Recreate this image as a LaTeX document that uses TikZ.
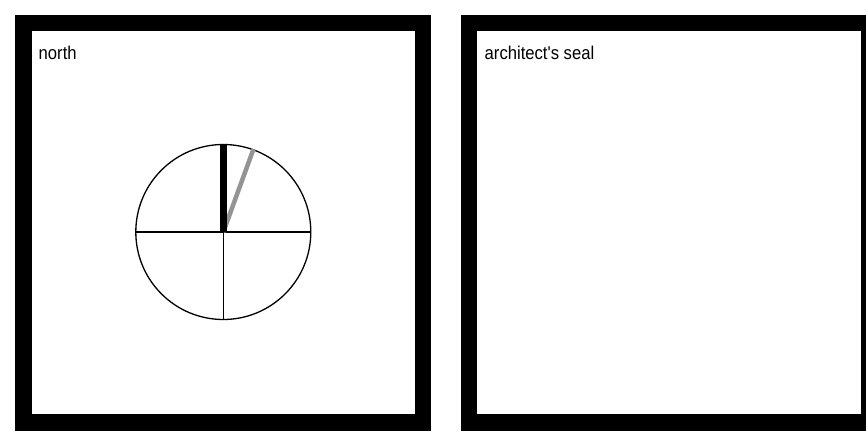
\documentclass[tikz,border=0pt]{standalone}
\usepackage{fontspec}
\newfontfamily\labfont{Liberation Sans}[FakeStretch=0.9]
\begin{document}
\begin{tikzpicture}[x=1pt,y=-1pt,
  frame/.style={draw=black,line width=16.5pt},
  label/.style={anchor=base west,inner sep=0pt,font=\labfont\fontsize{18.5}{22}\selectfont},
  dial/.style={draw=black,line width=1.3pt,circle,minimum size=175pt,inner sep=0pt},
  rule/.style={draw=black,line width=1.1pt},
  needle/.style={draw=black,line width=7.5pt},
  shade/.style={draw=black!42,line width=4.5pt}]
\useasboundingbox (0,0) rectangle (866,438);
\clip (0,0) rectangle (866,438);
\fill[white] (0,0) rectangle (866,438);
\draw[frame] (23.25,23.2) rectangle (423,422.5);
\draw[frame] (469,23.2) rectangle (869,422.5);
\node[label] (north) at (38.5,60) {north};
\node[label] (seal) at (484.5,60) {architect's seal};
\node[dial] (d) at (223.3,232) {};
\coordinate (c) at (223.3,232);
\draw[rule] (d.west) -- (d.east);
\draw[rule] (c) -- (d.south);
\draw[shade] (c) -- (d.70.5);
\draw[needle] (c) -- (d.north);
\end{tikzpicture}
\end{document}
